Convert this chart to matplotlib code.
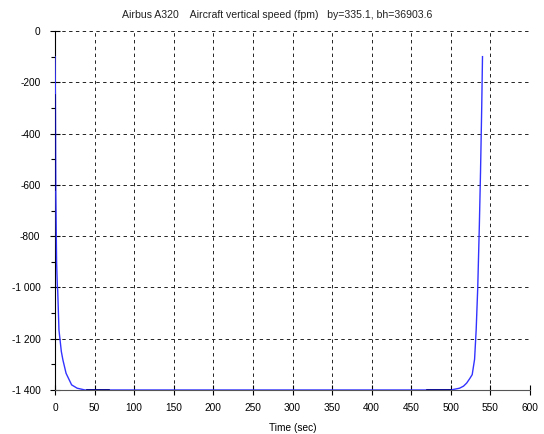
import numpy as np
import matplotlib
matplotlib.use("Agg")
import matplotlib.pyplot as plt
from matplotlib.ticker import MultipleLocator, FuncFormatter

plt.rcParams["font.family"] = ["Liberation Sans", "DejaVu Sans"]

# vertical speed (time in sec, speed in fpm)
time_sec = [0, 0.5, 1, 2, 3, 3.4, 5, 8, 10, 14, 21, 28, 38, 60,
            480, 500, 511, 516, 520, 524, 527, 530, 532, 534, 536, 537.5, 539, 540]
speed_fpm = [-100, -250, -620, -900, -1000, -1010, -1166, -1250, -1283, -1335, -1380, -1393, -1400, -1400,
             -1400, -1400, -1393, -1385, -1373, -1355, -1340, -1280, -1166, -1000, -760, -550, -300, -100]

# darker overlaid segments
dark_t = [[0.4, 0.4], [40, 68], [470, 500]]
dark_v = [[-250, -620], [-1400, -1400], [-1400, -1400]]

title = "Airbus A320    Aircraft vertical speed (fpm)   by=335.1, bh=36903.6"
xlabel = "Time (sec)"

fig = plt.figure(figsize=(5.44, 4.34), dpi=100)
ax = fig.add_axes([55 / 544, 1 - 390 / 434, 475 / 544, 359 / 434])

ax.plot(time_sec, speed_fpm, color="#3333ff", lw=1.0, zorder=3)
for t, v in zip(dark_t, dark_v):
    ax.plot(t, v, color="#000080", lw=1.2, zorder=4)

ax.set_xlim(0, 600)
ax.set_ylim(-1400, 0)
ax.xaxis.set_major_locator(MultipleLocator(50))
ax.yaxis.set_major_locator(MultipleLocator(200))
ax.yaxis.set_minor_locator(MultipleLocator(100))
ax.yaxis.set_major_formatter(FuncFormatter(
    lambda v, p: ("-" if v < 0 else "") + "{:,}".format(int(abs(v))).replace(",", " ")))

ax.grid(True, which="major", color="#222222", linestyle=(0, (3.5, 3.5)), lw=0.7)
for s in ["top", "right"]:
    ax.spines[s].set_visible(False)
ax.spines["left"].set_color("black")
ax.spines["bottom"].set_color("#555555")
ax.tick_params(axis="both", which="major", direction="inout", length=7, width=0.8,
               labelsize=7.3, colors="black")
ax.tick_params(axis="x", which="major", pad=6)
ax.tick_params(axis="y", which="major", pad=7)
ax.tick_params(axis="y", which="minor", direction="out", length=3, width=0.8)

fig.text(277 / 544, 1 - 15 / 434, title, fontsize=7.6, color="#222222", ha="center", va="center")
ax.set_xlabel(xlabel, fontsize=7.3, labelpad=7)

fig.savefig("out.png", dpi=100)
